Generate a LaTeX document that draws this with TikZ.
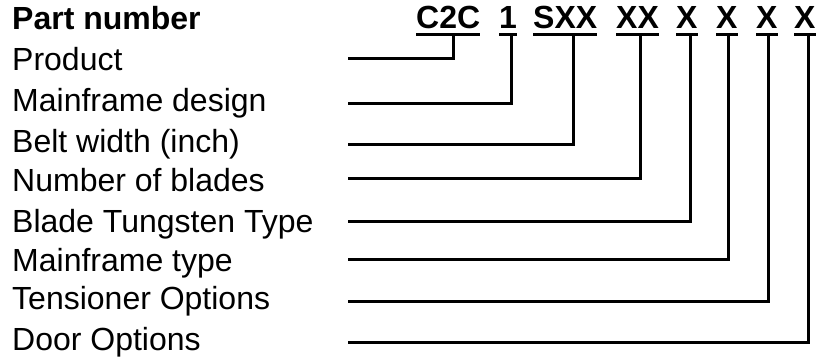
\documentclass[tikz,border=0pt]{standalone}
\usepackage{fontspec}
\setmainfont{Liberation Sans}
\begin{document}
\begin{tikzpicture}[x=1pt,y=-1pt,
  lbl/.style={anchor=base west,inner sep=0pt,font=\fontsize{32}{38}\selectfont},
  code/.style={anchor=base west,inner sep=0pt,font=\fontsize{32}{38}\selectfont\bfseries},
  conn/.style={line width=3pt}]
\useasboundingbox (0,0) rectangle (816,358);
% labels
\node[code] (L0) at (12,30) {Part number};
\node[lbl] (L1) at (12,71) {Product};
\node[lbl] (L2) at (12,112) {Mainframe design};
\node[lbl] (L3) at (12,153) {Belt width (inch)};
\node[lbl] (L4) at (12,192) {Number of blades};
\node[lbl] (L5) at (12,232) {Blade Tungsten Type};
\node[lbl] (L6) at (12,271) {Mainframe type};
\node[lbl] (L7) at (12,309) {Tensioner Options};
\node[lbl] (L8) at (12,350) {Door Options};
% codes
\node[code] (c1) at (416,29) {C2C};
\node[code] (c2) at (499,29) {1};
\node[code] (c3) at (533,29) {SXX};
\node[code] (c4) at (616,29) {XX};
\node[code] (c5) at (676,29) {X};
\node[code] (c6) at (716,29) {X};
\node[code] (c7) at (756,29) {X};
\node[code] (c8) at (794,29) {X};
\foreach \i in {1,...,8}{
  \draw[conn] ([yshift=-6pt]c\i.base west) -- ([yshift=-6pt]c\i.base east);
}
% connector ends
\foreach \i/\x/\y in {1/453/59,2/511/104,3/573/145,4/640/179,5/690/221,6/728/259,7/768/301,8/808/342}{
  \coordinate (t\i) at (\x,35);
  \coordinate (l\i) at (348,\y);
}
\foreach \i in {1,...,8}{
  \draw[conn] (l\i) -| (t\i);
}
\end{tikzpicture}
\end{document}
